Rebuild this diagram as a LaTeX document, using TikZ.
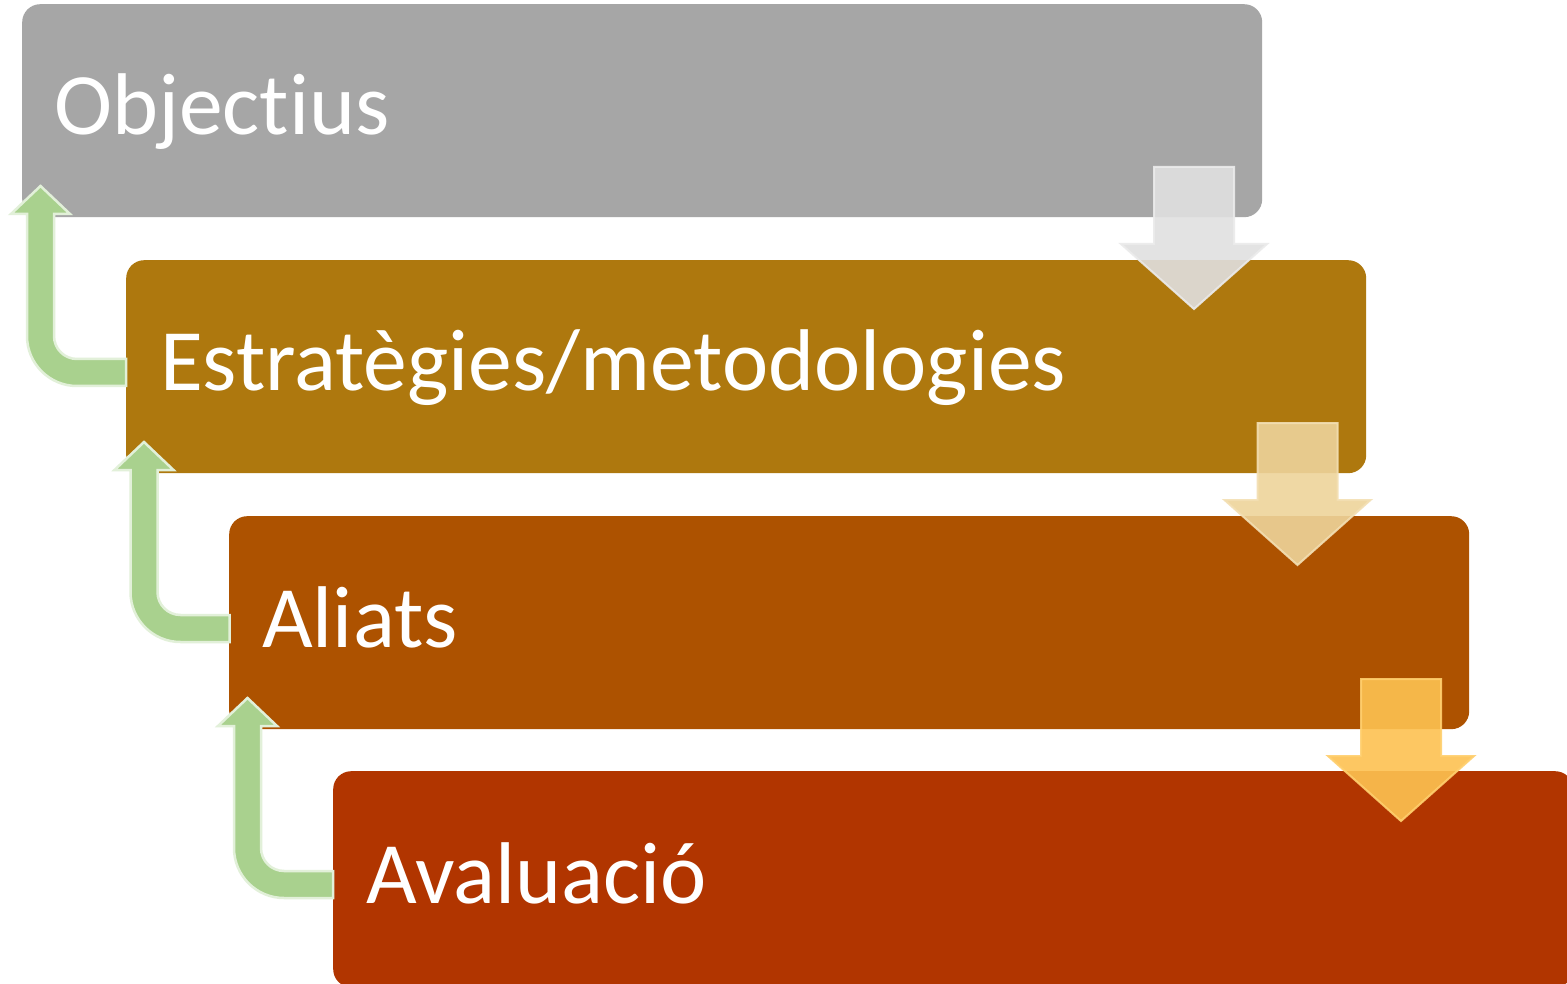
\documentclass[tikz,border=0pt]{standalone}
\usepackage{fontspec}
\setmainfont{Carlito}[Ligatures={NoCommon}]
\definecolor{cA}{HTML}{A6A6A6}
\definecolor{cB}{HTML}{AE780E}
\definecolor{cC}{HTML}{AD5200}
\definecolor{cD}{HTML}{B13500}
\definecolor{gFill}{HTML}{A9D18E}
\definecolor{gLine}{HTML}{E2F0D9}
\definecolor{d1}{HTML}{E0E0E0}
\definecolor{d1l}{HTML}{EBEBEB}
\definecolor{d2}{HTML}{EED49B}
\definecolor{d2l}{HTML}{F3DFB3}
\definecolor{d3}{HTML}{FDC251}
\definecolor{d3l}{HTML}{FFCF6E}
\tikzset{
  box/.style={rounded corners=18pt, draw=none, minimum width=1240pt, minimum height=213pt, anchor=north west, inner sep=0pt},
  lbl/.style={anchor=base west, text=white, inner sep=0pt, font=\fontsize{87.6}{100}\selectfont},
  uparrow/.style={fill=gFill, draw=gLine, line width=2.5pt, line join=miter},
  downarrow/.style={line width=2pt, fill opacity=0.9, draw opacity=0.9}
}
\begin{document}
\begin{tikzpicture}[x=1pt,y=-1pt]
\useasboundingbox (0,0) rectangle (1567,984);
\clip (0,0) rectangle (1567,984);
\fill[white] (0,0) rectangle (1567,984);
% boxes
\node[box, fill=cA] (b1) at (22,4) {};
\node[box, fill=cB] (b2) at (126,260) {};
\node[box, fill=cC] (b3) at (229,516) {};
\node[box, fill=cD, minimum height=216pt] (b4) at (333,771) {};
% labels
\node[lbl] (t1) at (54,135) {Objectius};
\node[lbl] (t2) at (160,391) {Estratègies/metodologies};
\node[lbl] (t3) at (262,647) {Aliats};
\node[lbl] (t4) at (366,903) {Avaluació};
% green bent up arrows
\foreach \k in {0,1,2} {
  \begin{scope}[shift={({103.5*\k},{256*\k})}]
    \path[uparrow] (126,359) -- (77,359) arc[start angle=90, end angle=180, radius=23]
      -- (54,214) -- (70,214) -- (40.5,186) -- (11,214) -- (27,214) -- (27,336)
      arc[start angle=180, end angle=90, radius=50] -- (126,386) -- cycle;
  \end{scope}
}
% down arrows
\path[downarrow, fill=d1, draw=d1l] (1154,167) -- (1234,167) -- (1234,244) -- (1267,244) -- (1194,309) -- (1121,244) -- (1154,244) -- cycle;
\path[downarrow, fill=d2, draw=d2l] (1257.5,423) -- (1337.5,423) -- (1337.5,500) -- (1370.5,500) -- (1297.5,565) -- (1224.5,500) -- (1257.5,500) -- cycle;
\path[downarrow, fill=d3, draw=d3l] (1361,679) -- (1441,679) -- (1441,756) -- (1474,756) -- (1401,821) -- (1328,756) -- (1361,756) -- cycle;
\end{tikzpicture}
\end{document}
